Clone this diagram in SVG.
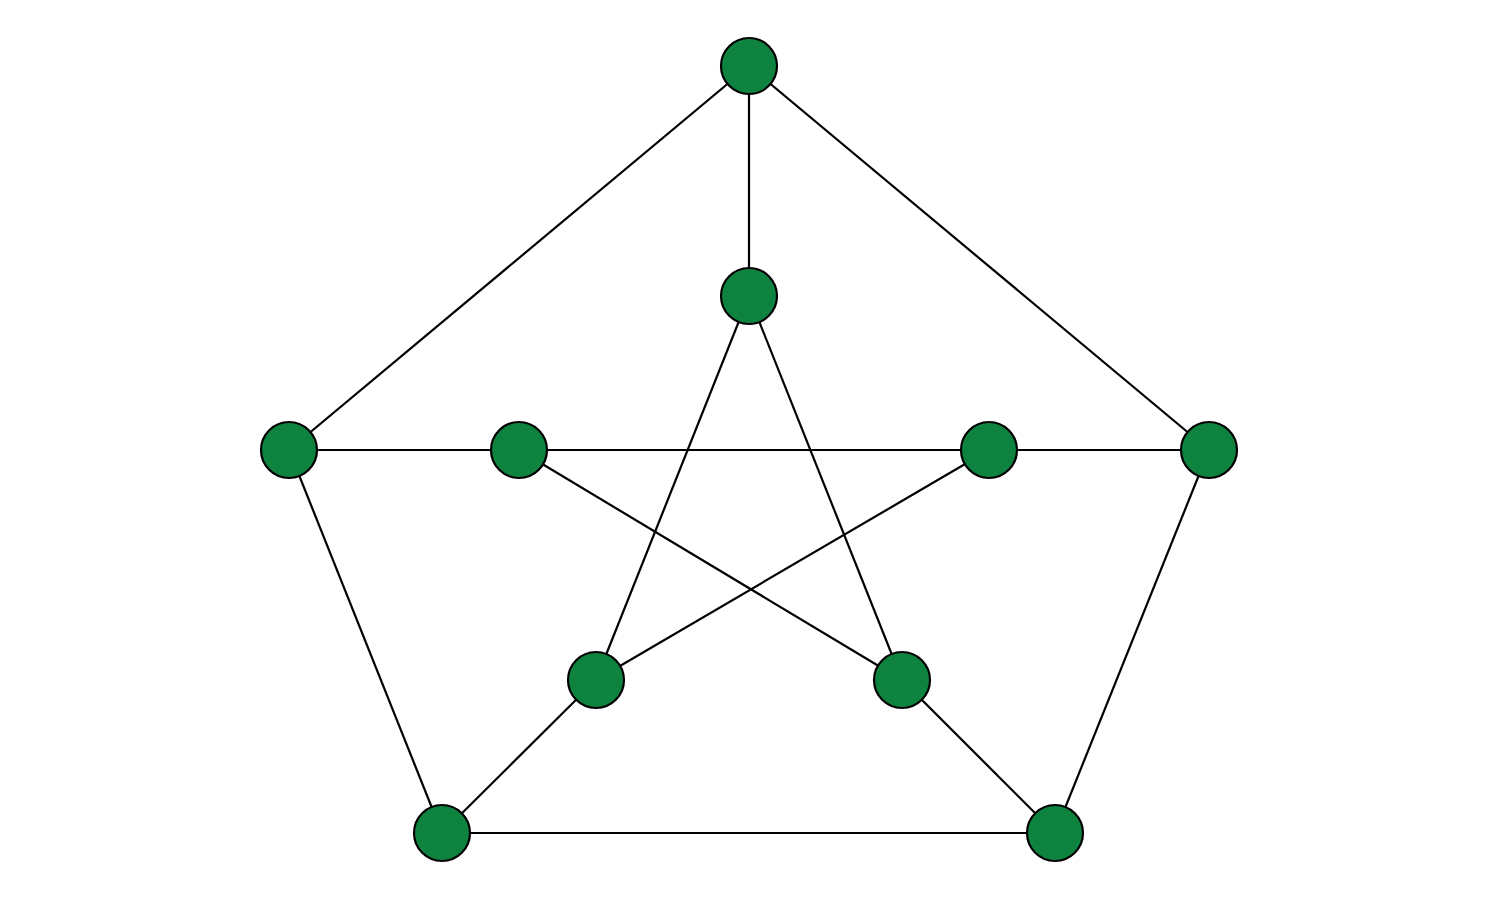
<svg xmlns="http://www.w3.org/2000/svg" width="1500" height="900" viewBox="0 0 1500 900">
<style>
.n{fill:#0e8340;stroke:#000;stroke-width:2.2}
.e{stroke:#000;stroke-width:2.2;fill:none}
</style>
<rect width="1500" height="900" fill="#fff"/>
<g id="edges" class="e">
<line x1="749" y1="66" x2="289" y2="450"/>
<line x1="749" y1="66" x2="1209" y2="450"/>
<line x1="289" y1="450" x2="442" y2="833"/>
<line x1="1209" y1="450" x2="1055" y2="833"/>
<line x1="442" y1="833" x2="1055" y2="833"/>
<line x1="749" y1="66" x2="749" y2="296"/>
<line x1="289" y1="450" x2="519" y2="450"/>
<line x1="1209" y1="450" x2="989" y2="450"/>
<line x1="442" y1="833" x2="596" y2="680"/>
<line x1="1055" y1="833" x2="902" y2="680"/>
<line x1="749" y1="296" x2="596" y2="680"/>
<line x1="749" y1="296" x2="902" y2="680"/>
<line x1="519" y1="450" x2="989" y2="450"/>
<line x1="519" y1="450" x2="902" y2="680"/>
<line x1="989" y1="450" x2="596" y2="680"/>
</g>
<g id="o1"><circle class="n" cx="749" cy="66" r="28"/></g>
<g id="o2"><circle class="n" cx="289" cy="450" r="28"/></g>
<g id="o3"><circle class="n" cx="1209" cy="450" r="28"/></g>
<g id="o4"><circle class="n" cx="442" cy="833" r="28"/></g>
<g id="o5"><circle class="n" cx="1055" cy="833" r="28"/></g>
<g id="i1"><circle class="n" cx="749" cy="296" r="28"/></g>
<g id="i2"><circle class="n" cx="519" cy="450" r="28"/></g>
<g id="i3"><circle class="n" cx="989" cy="450" r="28"/></g>
<g id="i4"><circle class="n" cx="596" cy="680" r="28"/></g>
<g id="i5"><circle class="n" cx="902" cy="680" r="28"/></g>
</svg>
